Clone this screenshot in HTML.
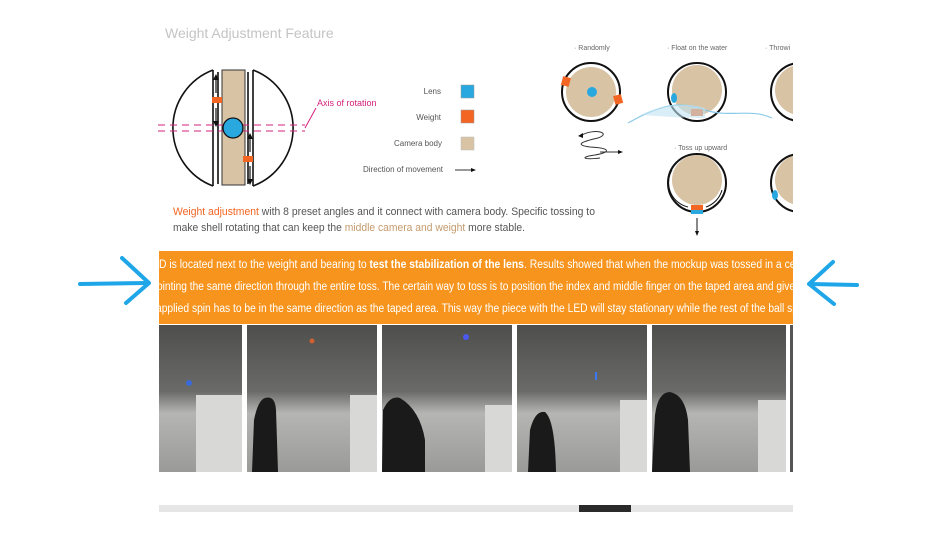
<!DOCTYPE html>
<html><head><meta charset="utf-8"><style>
html,body{margin:0;padding:0;background:#fff;}
svg{display:block;font-family:"Liberation Sans",sans-serif;}
</style></head><body>
<svg width="939" height="533" viewBox="0 0 939 533" xmlns="http://www.w3.org/2000/svg">
<defs>
<clipPath id="c"><rect x="159" y="0" width="634" height="533"/></clipPath>
<linearGradient id="ph" x1="0" y1="0" x2="0" y2="1">
<stop offset="0" stop-color="#4e4e4c"/><stop offset="0.45" stop-color="#6a6a68"/><stop offset="0.6" stop-color="#b5b5b3"/><stop offset="1" stop-color="#9a9a98"/>
</linearGradient>
</defs>
<rect width="939" height="533" fill="#fff"/>
<text x="165" y="38" font-size="14" fill="#c4c4c4">Weight Adjustment Feature</text>

<g stroke="#111" stroke-width="1.6" fill="none">
<path d="M213 70 A62 62 0 0 0 213 186"/>
<path d="M253 70 A62 62 0 0 1 253 186"/>
<line x1="213" y1="70" x2="213" y2="186"/><line x1="218" y1="72" x2="218" y2="184"/>
<line x1="248" y1="72" x2="248" y2="184"/><line x1="253" y1="70" x2="253" y2="186"/>
</g>
<rect x="222" y="70" width="23" height="115" fill="#d8c3a5" stroke="#333" stroke-width="1"/>
<g stroke="#d4217f" stroke-width="1" stroke-dasharray="7,5">
<line x1="158" y1="125" x2="305" y2="125"/><line x1="158" y1="131" x2="305" y2="131"/>
</g>
<path d="M305 128 L316 108" stroke="#d4217f" stroke-width="1" fill="none"/>
<circle cx="233" cy="128" r="10" fill="#29a8e0" stroke="#111" stroke-width="1.3"/>
<rect x="212" y="97" width="10" height="6" fill="#f26522"/>
<rect x="243" y="156" width="10" height="6" fill="#f26522"/>
<g stroke="#111" stroke-width="1.2">
<line x1="216" y1="77" x2="216" y2="93"/><line x1="216" y1="108" x2="216" y2="124"/>
<line x1="250" y1="136" x2="250" y2="152"/><line x1="250" y1="166" x2="250" y2="182"/>
</g>
<g fill="#111">
<path d="M213 80 L216 74 L219 80Z"/><path d="M213 121 L216 127 L219 121Z"/>
<path d="M247 139 L250 133 L253 139Z"/><path d="M247 179 L250 185 L253 179Z"/>
</g>
<text x="317" y="106" font-size="9" fill="#d4217f">Axis of rotation</text>

<g font-size="8" fill="#555" text-anchor="end">
<text x="441" y="94">Lens</text><text x="441" y="120">Weight</text>
<text x="442" y="146">Camera body</text><text x="443" y="172">Direction of movement</text>
</g>
<rect x="461" y="85" width="13" height="13" fill="#29a8e0" stroke="#999" stroke-width=".5"/>
<rect x="461" y="110" width="13" height="13" fill="#f26522" stroke="#999" stroke-width=".5"/>
<rect x="461" y="137" width="13" height="13" fill="#d8c3a5" stroke="#bbb" stroke-width=".5"/>
<line x1="455" y1="170" x2="472" y2="170" stroke="#333" stroke-width="1"/>
<path d="M471 168 L476 170 L471 172Z" fill="#111"/>

<text x="173" y="215" font-size="11" fill="#555" textLength="422" lengthAdjust="spacingAndGlyphs"><tspan fill="#f26522">Weight adjustment</tspan> with 8 preset angles  and it connect with camera body. Specific tossing to</text>
<text x="173" y="231" font-size="11" fill="#555" textLength="352" lengthAdjust="spacingAndGlyphs">make shell rotating that can keep the <tspan fill="#c49a6c">middle camera and weight</tspan> more stable.</text>

<g clip-path="url(#c)">
<g font-size="7" fill="#666">
<text x="574" y="50">· Randomly</text><text x="667" y="50">· Float on the water</text>
<text x="765" y="50">· Throwi</text><text x="674" y="150">· Toss up upward</text>
</g>
<g>
<circle cx="591" cy="92" r="29" fill="#fff" stroke="#111" stroke-width="2"/>
<circle cx="591" cy="92" r="25" fill="#d8c3a5"/>
<circle cx="592" cy="92" r="5" fill="#29a8e0"/>
<rect x="562" y="77" width="8" height="9" fill="#f26522" transform="rotate(15 566 81)"/>
<rect x="614" y="95" width="8" height="9" fill="#f26522" transform="rotate(-15 618 99)"/>
</g>
<g>
<circle cx="697" cy="92" r="29" fill="#fff" stroke="#111" stroke-width="2"/>
<circle cx="697" cy="90" r="25" fill="#d8c3a5"/>
<ellipse cx="674" cy="98" rx="3" ry="5" fill="#29a8e0"/>
<rect x="691" y="109" width="12" height="7" fill="#f26522"/>
</g>
<path d="M628 123 C660 105 680 100 705 110 C730 118 750 108 772 118" stroke="#8ccbe8" stroke-width="1.2" fill="none"/>
<path d="M640 115 C665 103 690 103 705 108 L705 118 C680 118 660 116 640 115Z" fill="#bfe2f2" opacity=".6"/>
<g>
<circle cx="800" cy="92" r="29" fill="#fff" stroke="#111" stroke-width="2"/>
<circle cx="800" cy="90" r="25" fill="#d8c3a5"/>
</g>
<g>
<circle cx="697" cy="183" r="29" fill="#fff" stroke="#111" stroke-width="2"/>
<circle cx="697" cy="180" r="25" fill="#d8c3a5"/>
<rect x="691" y="205" width="12" height="6" fill="#f26522"/>
<rect x="691" y="210" width="12" height="4" fill="#29a8e0"/>
<path d="M672 170 A25 25 0 0 0 688 207" stroke="#111" fill="none"/>
<path d="M706 207 A25 25 0 0 0 722 190" stroke="#111" fill="none"/>
<line x1="697" y1="218" x2="697" y2="234" stroke="#111"/>
<path d="M695 231 L697 236 L699 231Z" fill="#111"/>
</g>
<g>
<circle cx="800" cy="183" r="29" fill="#fff" stroke="#111" stroke-width="2"/>
<circle cx="800" cy="180" r="25" fill="#d8c3a5"/>
<ellipse cx="775" cy="195" rx="3" ry="5" fill="#29a8e0"/>
</g>
</g>
<g stroke="#333" stroke-width="1" fill="none">
<path d="M582 135 C595 128 612 133 598 138 C580 142 575 145 590 147 C610 148 612 152 595 155 C580 157 582 160 600 158"/>
<line x1="600" y1="152" x2="619" y2="152"/>
</g>
<path d="M618 150 L623 152 L618 154Z" fill="#111"/>
<path d="M583 133 L578 136 L583 138Z" fill="#111"/>

<rect x="159" y="251" width="634" height="73" fill="#f7941d"/>
<g clip-path="url(#c)" font-size="11.5" fill="#fff">
<text x="159" y="268" textLength="640" lengthAdjust="spacingAndGlyphs">D is located next to the weight and bearing to <tspan font-weight="bold">test the stabilization of the lens</tspan>. Results showed that  when the mockup was  tossed in a cer</text>
<text x="157" y="290" textLength="638" lengthAdjust="spacingAndGlyphs">ointing the same direction through the entire toss. The certain way to toss is to position the index and middle finger on the taped area and give</text>
<text x="156" y="312" textLength="642" lengthAdjust="spacingAndGlyphs">applied spin has to be in the same direction as the taped area. This way the piece with the LED will stay stationary while the rest of the ball sp</text>
</g>

<g>
<rect x="159" y="325" width="83" height="147" fill="url(#ph)"/>
<rect x="247" y="325" width="130" height="147" fill="url(#ph)"/>
<rect x="382" y="325" width="130" height="147" fill="url(#ph)"/>
<rect x="517" y="325" width="130" height="147" fill="url(#ph)"/>
<rect x="652" y="325" width="134" height="147" fill="url(#ph)"/>
<rect x="790" y="325" width="3" height="147" fill="#555"/>
<g fill="#d8d8d6">
<rect x="196" y="395" width="46" height="77"/><rect x="350" y="395" width="27" height="77"/>
<rect x="485" y="405" width="27" height="67"/><rect x="620" y="400" width="27" height="72"/>
<rect x="758" y="400" width="28" height="72"/>
</g>
<g fill="#1a1a1a">
<path d="M252 472 L254 420 Q258 400 265 398 Q275 395 276 410 L278 472Z"/>
<path d="M382 472 L383 410 Q390 395 400 398 Q420 410 425 440 L425 472Z"/>
<path d="M528 472 L530 430 Q535 410 545 412 Q555 420 556 472Z"/>
<path d="M652 472 L655 415 Q658 392 670 392 Q685 395 688 420 L690 472Z"/>
</g>
<circle cx="189" cy="383" r="3" fill="#3a6ad8"/>
<circle cx="312" cy="341" r="2.5" fill="#d06030"/>
<circle cx="466" cy="337" r="3" fill="#4a5af0"/>
<rect x="595" y="372" width="2" height="8" fill="#3a7af0"/>
</g>

<rect x="159" y="505" width="634" height="7" fill="#e6e6e6"/>
<rect x="579" y="505" width="52" height="7" fill="#2a2a2a"/>

<g stroke="#1ea6e8" stroke-width="4" fill="none" stroke-linecap="round" stroke-linejoin="round">
<line x1="80" y1="284" x2="148" y2="283"/>
<path d="M122 258 L149 283 L126 303"/>
<line x1="810" y1="284" x2="857" y2="285"/>
<path d="M833 262 L809 284 L834 304"/>
</g>
</svg>
</body></html>
